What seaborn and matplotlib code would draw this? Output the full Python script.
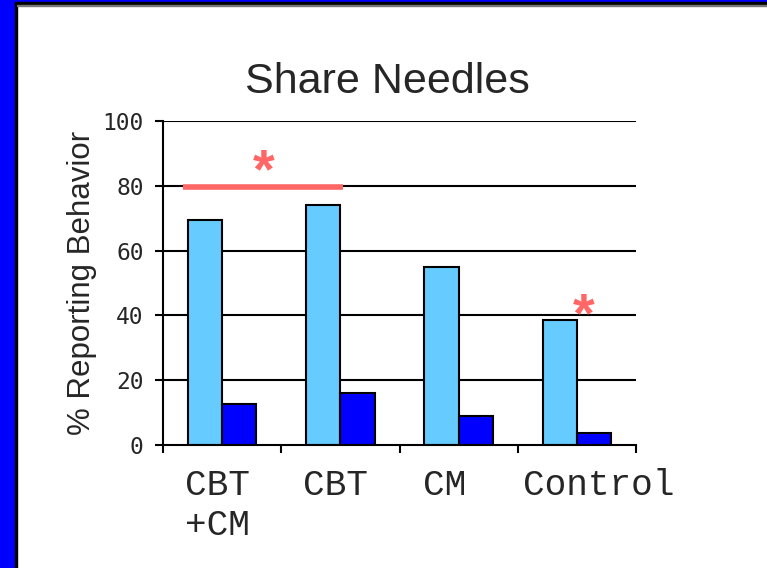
import seaborn as sns
import pandas as pd
import matplotlib
matplotlib.use("Agg")
import matplotlib.pyplot as plt
import matplotlib.transforms as mtransforms
from matplotlib.patches import Rectangle

# Data
groups = ["CBT\n+CM", "CBT", "CM", "Control"]
baseline = [69.5, 74, 55, 38.5]
followup = [12.8, 16, 9, 3.7]
series_names = ["Baseline", "Follow-up"]
bar_colors = ["#66CCFF", "#0000FF"]

df = pd.DataFrame({
    "group": groups * 2,
    "value": baseline + followup,
    "period": [series_names[0]] * len(groups) + [series_names[1]] * len(groups),
})

sns.set_theme(style="white")
plt.rcParams["font.family"] = ["Liberation Sans", "DejaVu Sans"]

fig = plt.figure(figsize=(7.67, 5.68), dpi=100)
fig.patch.set_facecolor("white")
ax = fig.add_axes([163 / 767, 123 / 568, 473 / 767, 324 / 568])

sns.barplot(data=df, x="group", y="value", hue="period", order=groups,
            hue_order=series_names, palette=bar_colors, width=0.58,
            edgecolor="black", linewidth=1.5, saturation=1, legend=False, ax=ax)

ax.set_ylim(0, 100)
ax.set_xlim(-0.5, len(groups) - 0.5)
ax.set_yticks([0, 20, 40, 60, 80, 100])
for y in [20, 40, 60, 80, 100]:
    ax.axhline(y, color="black", lw=1.5, zorder=0)

for side in ["top", "right"]:
    ax.spines[side].set_visible(False)
for side in ["left", "bottom"]:
    ax.spines[side].set_color("black")
    ax.spines[side].set_linewidth(1.5)

ax.set_xlabel("")
ax.set_ylabel("% Reporting Behavior", fontsize=22.5, labelpad=4)
fig.text(387 / 767, 1 - 93 / 568, "Share Needles", fontsize=31,
         ha="center", va="baseline")

# y ticks
ax.tick_params(axis="y", which="major", direction="out", length=6, width=1.5,
               color="black", left=True, pad=8)
for lab in ax.get_yticklabels():
    lab.set_fontfamily("DejaVu Sans Mono")
    lab.set_fontsize(16.5)

# x: tick marks at group boundaries, labels left-ish in each group
ax.set_xticks([i - 0.5 for i in range(len(groups) + 1)], minor=True)
ax.tick_params(axis="x", which="minor", direction="out", length=6, width=1.5,
               color="black", bottom=True)
ax.tick_params(axis="x", which="major", length=0, pad=16.5)
ax.set_xticks(range(len(groups)))
ax.set_xticklabels(groups, fontsize=26, fontfamily="Liberation Mono",
                   ha="left", va="top")
label_shift = [-37, -37, -36, -54]
for lab, dx in zip(ax.get_xticklabels(), label_shift):
    offset = mtransforms.ScaledTranslation(dx / 100, 0, fig.dpi_scale_trans)
    lab.set_transform(lab.get_transform() + offset)

# significance marks
red = "#FF6666"
ax.plot([-0.33, 1.02], [79.5, 79.5], color=red, lw=4, solid_capstyle="butt",
        clip_on=False, zorder=3)
ax.text(0.35, 84, "*", color=red, fontsize=40, fontweight="bold",
        ha="center", va="center")
ax.text(3.06, 39.5, "*", color=red, fontsize=40, fontweight="bold",
        ha="center", va="center")

# slide frame
fig.patches.append(Rectangle((0, 0), 15 / 767, 1, transform=fig.transFigure,
                             color="#0000FF", zorder=-1))
fig.patches.append(Rectangle((0, 1 - 2 / 568), 1, 2 / 568, transform=fig.transFigure,
                             color="#0000FF", zorder=-1))
fig.patches.append(Rectangle((15 / 767, 0), 2 / 767, 1 - 2 / 568, transform=fig.transFigure,
                             color="black", zorder=-1))
fig.patches.append(Rectangle((15 / 767, 1 - 5 / 568), 1, 3 / 568, transform=fig.transFigure,
                             color="black", zorder=-1))
fig.patches.append(Rectangle((17 / 767, 1 - 6 / 568), 1, 1 / 568, transform=fig.transFigure,
                             color="#777777", zorder=-1))

fig.savefig("out.png", dpi=100)
